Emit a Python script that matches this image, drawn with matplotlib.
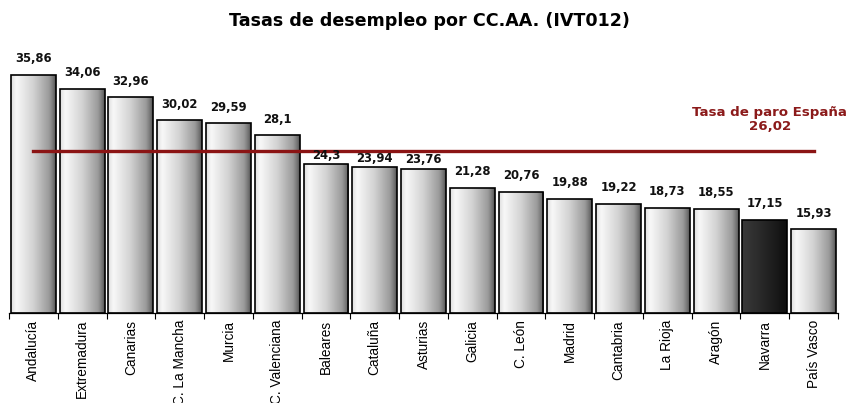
import matplotlib
matplotlib.use("Agg")
import matplotlib.pyplot as plt
import numpy as np
from matplotlib.colors import LinearSegmentedColormap

plt.rcParams['font.family'] = ['Liberation Sans', 'DejaVu Sans']

regions = ["Andalucía", "Extremadura", "Canarias", "C. La Mancha", "Murcia",
           "C. Valenciana", "Baleares", "Cataluña", "Asturias", "Galicia",
           "C. León", "Madrid", "Cantabria", "La Rioja", "Aragón", "Navarra",
           "País Vasco"]
rates = [35.86, 34.06, 32.96, 30.02, 29.59, 28.1, 24.3, 23.94, 23.76, 21.28,
         20.76, 19.88, 19.22, 18.73, 18.55, 17.15, 15.93]
labels = ["35,86", "34,06", "32,96", "30,02", "29,59", "28,1", "24,3", "23,94",
          "23,76", "21,28", "20,76", "19,88", "19,22", "18,73", "18,55", "17,15",
          "15,93"]
highlight = "Navarra"
spain_rate = 26.02
spain_label = "Tasa de paro España\n26,02"
title = "Tasas de desempleo por CC.AA. (IVT012)"

# labels tucked under the reference line (in points above bar top)
label_gap = {"Baleares": 1.5, "Cataluña": 1.5, "Asturias": 1.5}

fig = plt.figure(figsize=(8.5, 4.03), dpi=100)
W, H = 850, 403
x0, x1 = 9, 838
ybase, ytop = 313, 42
ax = fig.add_axes([x0 / W, 1 - ybase / H, (x1 - x0) / W, (ybase - ytop) / H])

ymin = 5.1
ymax = ymin + (ybase - ytop) / 7.74
ax.set_xlim(-0.5, len(regions) - 0.5)
ax.set_ylim(ymin, ymax)

x = np.arange(len(regions))
bars = ax.bar(x, [r - ymin for r in rates], bottom=ymin, width=0.92,
              facecolor='none', edgecolor='black', linewidth=1.2, zorder=3)

light = LinearSegmentedColormap.from_list(
    "light", [(0, "#dedede"), (0.12, "#f8f8f8"), (0.5, "#d2d2d2"),
              (0.85, "#9a9a9a"), (0.94, "#747474"), (1.0, "#505050")])
dark = LinearSegmentedColormap.from_list(
    "dark", [(0, "#3a3a3a"), (0.5, "#262626"), (1.0, "#0e0e0e")])
grad = np.linspace(0, 1, 256).reshape(1, -1)
for b, name in zip(bars, regions):
    cmap = dark if name == highlight else light
    bx, by = b.get_x(), b.get_y()
    im = ax.imshow(grad, cmap=cmap, aspect='auto',
                   extent=(bx, bx + b.get_width(), by, by + b.get_height()),
                   zorder=2, interpolation='bilinear')
    im.set_clip_path(b)

for xi, r, lab, name in zip(x, rates, labels, regions):
    ax.annotate(lab, (xi, r), xytext=(0, label_gap.get(name, 6.8)),
                textcoords='offset points', ha='center', va='bottom',
                fontsize=8.4, fontweight='bold', color='#111111',
                family='DejaVu Sans', zorder=5)

ax.plot([x[0], x[-1]], [spain_rate, spain_rate], color='#8b1414', lw=2.4, zorder=4)
ax.text(15.1, spain_rate + 2.3, spain_label, ha='center', va='bottom',
        fontsize=9.6, fontweight='bold', color='#8b1a1a', linespacing=1.15,
        family='DejaVu Sans')

ax.set_xticks(x)
ax.set_xticklabels(regions, rotation=90, fontsize=9.8)
ax.tick_params(axis='x', length=0, pad=5)
ax.set_xticks(np.arange(-0.5, len(regions), 1), minor=True)
ax.tick_params(axis='x', which='minor', length=4, width=0.8, direction='out')
ax.set_yticks([])
for s in ['left', 'right', 'top']:
    ax.spines[s].set_visible(False)
ax.spines['bottom'].set_linewidth(0.9)

fig.text(429 / W, 1 - 21 / H, title, ha='center', va='center',
         fontsize=12.6, fontweight='bold', family='DejaVu Sans')

fig.savefig("out.png", dpi=100)
